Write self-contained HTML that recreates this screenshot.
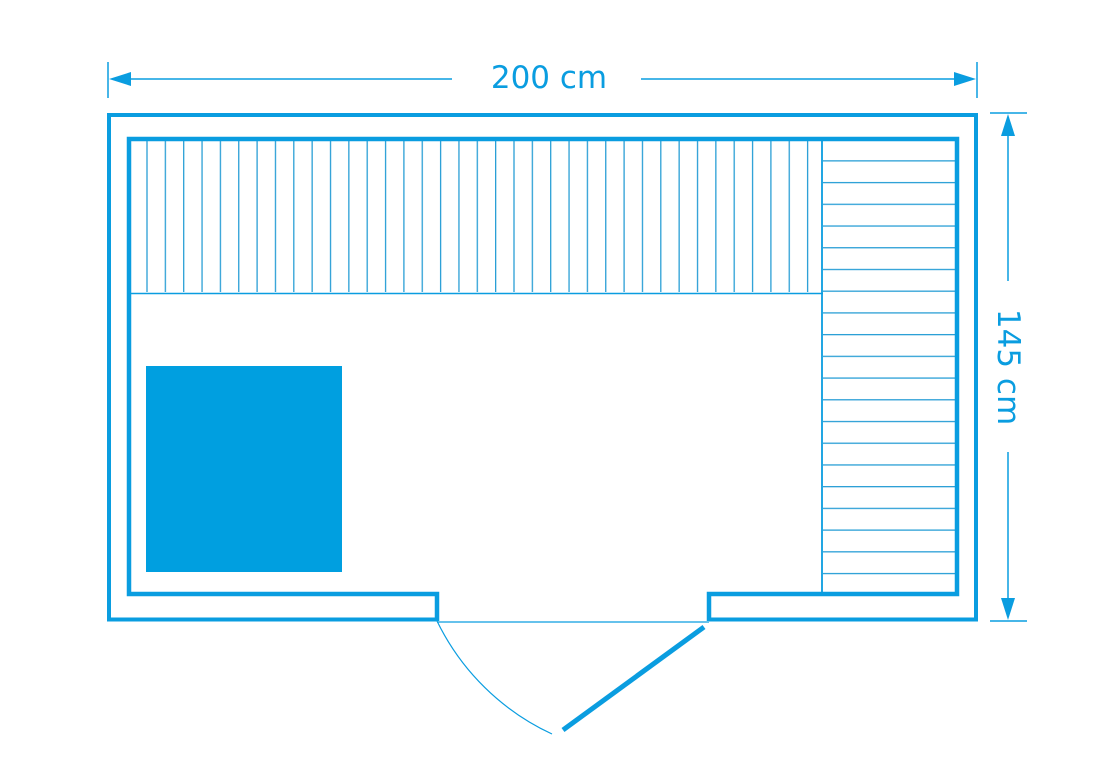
<!DOCTYPE html>
<html><head><meta charset="utf-8"><style>
html,body{margin:0;padding:0;background:#fff;}
svg{display:block;}
</style></head><body>
<svg width="1110" height="780" viewBox="0 0 1110 780" xmlns="http://www.w3.org/2000/svg">
<defs>
<pattern id="vs" patternUnits="userSpaceOnUse" x="128" y="0" width="18.35" height="10">
<rect x="0" y="0" width="1.3" height="10" fill="#2a9fd6"/>
</pattern>
<pattern id="hs" patternUnits="userSpaceOnUse" x="0" y="138.5" width="10" height="21.72">
<rect x="0" y="0" width="10" height="1.3" fill="#2a9fd6"/>
</pattern>
</defs>
<g fill="none" stroke="#0a9de0">
<!-- top bench slats -->
<rect x="135" y="139" width="680" height="153" fill="url(#vs)" stroke="none"/>
<rect x="823" y="141" width="133" height="452" fill="url(#hs)" stroke="none"/>
<line x1="129" y1="293.5" x2="823" y2="293.5" stroke-width="1.5"/>
<line x1="822" y1="139" x2="822" y2="594" stroke-width="1.8"/>
<!-- inner wall -->
<path d="M437,621 L437,594 L129,594 L129,139 L957,139 L957,594 L709,594 L709,621" stroke-width="4.5"/>
<!-- outer wall -->
<path d="M437,619.5 L109,619.5 L109,115 L976,115 L976,619.5 L709,619.5" stroke-width="4"/>
<!-- door threshold -->
<line x1="437" y1="622" x2="709" y2="622" stroke-width="1.2"/>
<path d="M437,621 A 240 240 0 0 0 552,734" stroke-width="1.2"/>
<line x1="704" y1="627" x2="563" y2="730" stroke-width="5"/>
<!-- top dimension -->
<line x1="108" y1="62" x2="108" y2="98" stroke-width="1.5"/>
<line x1="977" y1="62" x2="977" y2="98" stroke-width="1.5"/>
<line x1="120" y1="79" x2="452" y2="79" stroke-width="1.5"/>
<line x1="641" y1="79" x2="965" y2="79" stroke-width="1.5"/>
<!-- right dimension -->
<line x1="990" y1="113" x2="1027" y2="113" stroke-width="1.5"/>
<line x1="990" y1="621" x2="1027" y2="621" stroke-width="1.5"/>
<line x1="1008" y1="125" x2="1008" y2="281" stroke-width="1.5"/>
<line x1="1008" y1="452" x2="1008" y2="608" stroke-width="1.5"/>
</g>
<g fill="#0a9de0">
<polygon points="109,79 131,72 131,86"/>
<polygon points="976,79 954,72 954,86"/>
<polygon points="1008,114 1001,136 1015,136"/>
<polygon points="1008,620 1001,598 1015,598"/>
<rect x="146" y="366" width="196" height="206" fill="#009fe0"/>
</g>
<text x="549" y="88" text-anchor="middle" font-family="'DejaVu Sans','Liberation Sans',sans-serif" font-size="31" fill="#0a9de0">200 cm</text>
<text transform="translate(998,367) rotate(90)" text-anchor="middle" font-family="'DejaVu Sans','Liberation Sans',sans-serif" font-size="31" fill="#0a9de0">145 cm</text>
</svg>
</body></html>
